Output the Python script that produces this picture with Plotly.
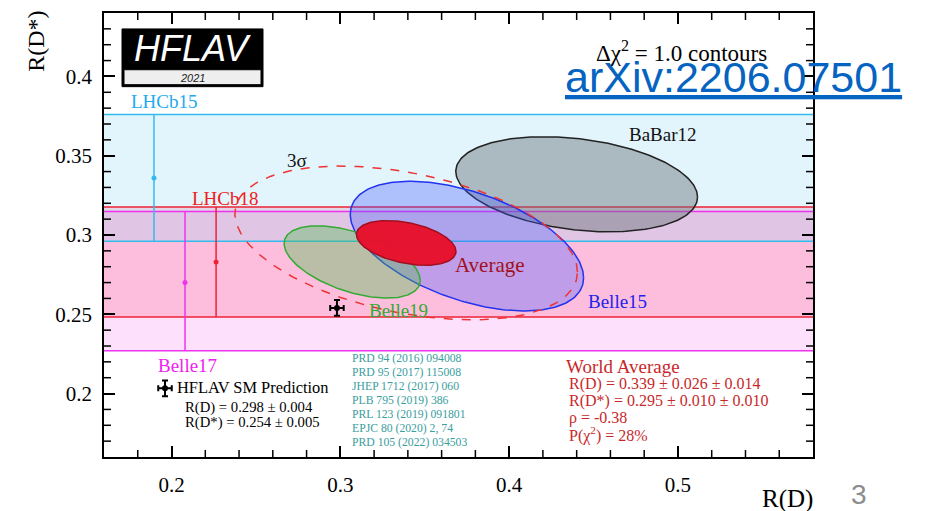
import numpy as np
import plotly.graph_objects as go

# ---------------- data ----------------
# 1D R(D*) measurements (horizontal bands)
band_names = ["Belle17", "LHCb18", "LHCb15"]
band_center = [0.270, 0.283, 0.336]
band_err_up = [0.0448, 0.0347, 0.040]
band_err_dn = [0.0430, 0.0347, 0.040]
band_xpos = [0.208, 0.2264, 0.1896]          # where the 1D points are displayed
band_colors = ["#ee33ee", "#ee2233", "#33bbee"]
band_fills = ["rgba(245,120,240,0.22)", "rgba(255,110,150,0.30)", "rgba(160,220,245,0.30)"]
band_label_pos = [(0.2092, 0.2178), (0.2320, 0.3232), (0.1961, 0.3841)]
band_label_colors = ["#ee22ee", "#ee2020", "#22aaee"]

# 2D measurements (Delta chi2 = 1 contours)
ell_names = ["BaBar12", "Belle15", "Belle19", "Average"]
ell_rd = [0.440, 0.375, 0.307, 0.339]
ell_rd_err = [0.0716, 0.0691, 0.0403, 0.0295]
ell_rds = [0.332, 0.293, 0.283, 0.295]
ell_rds_err = [0.030, 0.0409, 0.0228, 0.0141]
ell_rho = [-0.27, -0.49, -0.51, -0.38]
ell_fill = ["rgba(105,115,122,0.45)", "rgba(70,90,255,0.33)", "rgba(80,190,80,0.38)", "rgba(232,16,42,0.97)"]
ell_line = ["#222222", "#2233ee", "#33aa33", "#a01020"]
ell_label_pos = [(0.4912, 0.3634), (0.4639, 0.2580), (0.3342, 0.2523), (0.3887, 0.2812)]
ell_label_colors = ["#111111", "#2222ee", "#33aa33", "#a01020"]
ell_label_sizes = [19, 19, 19, 21]

three_sigma_dchi2 = 11.83

# SM prediction
sm_rd, sm_rd_err = 0.298, 0.004
sm_rds, sm_rds_err = 0.254, 0.005

x_range = [0.16, 0.58]
y_range = [0.16, 0.44]
x_major, x_minor = 0.1, 0.02
y_major, y_minor = 0.05, 0.01

refs = ["PRD 94 (2016) 094008", "PRD 95 (2017) 115008", "JHEP 1712 (2017) 060",
        "PLB 795 (2019) 386", "PRL 123 (2019) 091801", "EPJC 80 (2020) 2, 74",
        "PRD 105 (2022) 034503"]
wa_lines = ["R(D) = 0.339 ± 0.026 ± 0.014", "R(D*) = 0.295 ± 0.010 ± 0.010",
            "ρ = -0.38", "P(χ<sup>2</sup>) = 28%"]
sm_lines = ["R(D) = 0.298 ± 0.004", "R(D*) = 0.254 ± 0.005"]

# ---------------- layout helpers ----------------
W, H = 927, 511
L, R, T, B = 104, 813, 11, 457
SERIF = "Liberation Serif"
XU = (x_range[1] - x_range[0]) / (R - L)   # data units per pixel
YU = (y_range[1] - y_range[0]) / (B - T)


def px(x, y):
    return (x - L) / (R - L), (B - y) / (B - T)


def ellipse(mx, sx, my, sy, rho, scale=1.0):
    t = np.linspace(0, 2 * np.pi, 241)
    xs = mx + scale * sx * np.cos(t)
    ys = my + scale * sy * (rho * np.cos(t) + np.sqrt(1 - rho ** 2) * np.sin(t))
    return xs, ys


fig = go.Figure()
shapes = []
annotations = []

# bands (fills)
for i in range(len(band_names)):
    shapes.append(dict(type="rect", xref="x", yref="y", x0=x_range[0], x1=x_range[1],
                       y0=band_center[i] - band_err_dn[i], y1=band_center[i] + band_err_up[i],
                       fillcolor=band_fills[i], line=dict(width=0), layer="below"))
# band edges
for i in range(len(band_names)):
    for yv in (band_center[i] - band_err_dn[i], band_center[i] + band_err_up[i]):
        shapes.append(dict(type="line", xref="x", yref="y", x0=x_range[0], x1=x_range[1],
                           y0=yv, y1=yv, line=dict(color=band_colors[i], width=1.5), layer="below"))
# 1D points with vertical error bars
for i in range(len(band_names)):
    fig.add_trace(go.Scatter(
        x=[band_xpos[i]], y=[band_center[i]], mode="markers",
        marker=dict(color=band_colors[i], size=5),
        error_y=dict(type="data", symmetric=False, array=[band_err_up[i]],
                     arrayminus=[band_err_dn[i]], color=band_colors[i], thickness=1.5, width=0),
        showlegend=False, hoverinfo="skip"))
    annotations.append(dict(x=band_label_pos[i][0], y=band_label_pos[i][1], xref="x", yref="y",
                            text=band_names[i], showarrow=False,
                            font=dict(family=SERIF, size=19, color=band_label_colors[i])))

# ellipses
for i in range(len(ell_names)):
    xs, ys = ellipse(ell_rd[i], ell_rd_err[i], ell_rds[i], ell_rds_err[i], ell_rho[i])
    fig.add_trace(go.Scatter(x=xs, y=ys, mode="lines", fill="toself",
                             fillcolor=ell_fill[i], line=dict(color=ell_line[i], width=1.5),
                             showlegend=False, hoverinfo="skip"))
    annotations.append(dict(x=ell_label_pos[i][0], y=ell_label_pos[i][1], xref="x", yref="y",
                            text=ell_names[i], showarrow=False,
                            font=dict(family=SERIF, size=ell_label_sizes[i], color=ell_label_colors[i])))

# 3 sigma contour of the average
avg = ell_names.index("Average")
xs, ys = ellipse(ell_rd[avg], ell_rd_err[avg], ell_rds[avg], ell_rds_err[avg], ell_rho[avg],
                 scale=np.sqrt(three_sigma_dchi2))
fig.add_trace(go.Scatter(x=xs, y=ys, mode="lines", line=dict(color="#ee3333", width=1.5, dash="dash"),
                         showlegend=False, hoverinfo="skip"))
annotations.append(dict(x=0.2743, y=0.3471, xref="x", yref="y", text="3σ", showarrow=False,
                        font=dict(family=SERIF, size=19, color="#111111")))

# SM prediction point and its legend key
leg_x, leg_y = 165, 388  # pixel position of the legend key
leg_xv = x_range[0] + (leg_x - L) * XU
leg_yv = y_range[1] - (leg_y - T) * YU
fig.add_trace(go.Scatter(
    x=[sm_rd, leg_xv], y=[sm_rds, leg_yv], mode="markers",
    marker=dict(color="black", size=6),
    error_x=dict(type="data", array=[sm_rd_err, sm_rd_err], color="black", thickness=2, width=3),
    error_y=dict(type="data", array=[sm_rds_err, sm_rds_err], color="black", thickness=2, width=3),
    showlegend=False, hoverinfo="skip"))

# minor ticks (inside, on all four sides of the frame) drawn as axis-referenced shapes
minor_len = 7
tick_style = dict(color="black", width=1.5)
n_x = int(round((x_range[1] - x_range[0]) / x_minor))
for k in range(1, n_x):
    v = round(x_range[0] + k * x_minor, 4)
    if abs(v / x_major - round(v / x_major)) < 1e-6:
        continue
    shapes.append(dict(type="line", xref="x", yref="y", x0=v, x1=v,
                       y0=y_range[0], y1=y_range[0] + minor_len * YU, line=tick_style))
    shapes.append(dict(type="line", xref="x", yref="y", x0=v, x1=v,
                       y0=y_range[1], y1=y_range[1] - minor_len * YU, line=tick_style))
n_y = int(round((y_range[1] - y_range[0]) / y_minor))
for k in range(1, n_y):
    v = round(y_range[0] + k * y_minor, 4)
    if abs(v / y_major - round(v / y_major)) < 1e-6:
        continue
    shapes.append(dict(type="line", xref="x", yref="y", y0=v, y1=v,
                       x0=x_range[0], x1=x_range[0] + minor_len * XU, line=tick_style))
    shapes.append(dict(type="line", xref="x", yref="y", y0=v, y1=v,
                       x0=x_range[1], x1=x_range[1] - minor_len * XU, line=tick_style))

# ---------------- text blocks (paper coordinates) ----------------
def add_text(x, y, text, size, color="black", family=SERIF, xanchor="center", **kw):
    xp, yp = px(x, y)
    d = dict(x=xp, y=yp, xref="paper", yref="paper", text=text, showarrow=False,
             xanchor=xanchor, yanchor="middle", font=dict(family=family, size=size, color=color))
    d.update(kw)
    annotations.append(d)

# HFLAV logo
x0, y0 = px(122, 85)
x1, y1 = px(263, 27)
shapes.append(dict(type="rect", xref="paper", yref="paper", x0=x0, x1=x1, y0=y0, y1=y1,
                   fillcolor="black", line=dict(color="black", width=1)))
x0, y0 = px(124, 83)
x1, y1 = px(261, 68)
shapes.append(dict(type="rect", xref="paper", yref="paper", x0=x0, x1=x1, y0=y0, y1=y1,
                   fillcolor="#eeeeee", line=dict(color="black", width=1)))
add_text(192, 47, "<i>HFLAV</i>", 36, color="white", family="Liberation Sans")
add_text(192, 76, "<i>2021</i>", 11, color="#222222", family="Liberation Sans")

add_text(681, 50, "Δχ<sup>2</sup> = 1.0 contours", 23)
add_text(733, 75, "<u>arXiv:2206.07501</u>", 43, color="#0563c1", family="Liberation Sans")

for k, r in enumerate(refs):
    add_text(350, 358 + k * 14.1, r, 11.7, color="#3a9e9e", xanchor="left")

add_text(564, 366, "World Average", 19, color="#c8282a", xanchor="left")
for k, s in enumerate(wa_lines):
    add_text(567, 384 + k * 16.7, s, 16, color="#c8282a", xanchor="left")

add_text(175, 387, "HFLAV SM Prediction", 16.4, xanchor="left")
for k, s in enumerate(sm_lines):
    add_text(183, 407 + k * 15.5, s, 14.7, xanchor="left")

# axis titles
add_text(36, 40, "R(D*)", 24, textangle=-90)
add_text(787, 499, "R(D)", 25)
# slide page number
add_text(859, 495, "3", 28, color="#8c8c8c", family="Liberation Sans")

axis_common = dict(showgrid=False, zeroline=False, showline=True, linecolor="black", linewidth=1.5,
                   mirror="allticks", ticks="inside", tickwidth=1.5, tickcolor="black",
                   tickmode="linear", tick0=0.2, ticklen=11,
                   tickfont=dict(family=SERIF, size=21, color="black"))
fig.update_layout(
    width=W, height=H,
    margin=dict(l=L, r=W - R, t=T, b=H - B),
    paper_bgcolor="white", plot_bgcolor="white",
    xaxis=dict(range=x_range, dtick=x_major, ticklabelstandoff=8, **axis_common),
    yaxis=dict(range=y_range, dtick=y_major, ticklabelstandoff=6, **axis_common),
    shapes=shapes, annotations=annotations, showlegend=False,
)

fig.write_html("out.html", config={"displayModeBar": False},
               post_script="document.body.style.margin='0';")
